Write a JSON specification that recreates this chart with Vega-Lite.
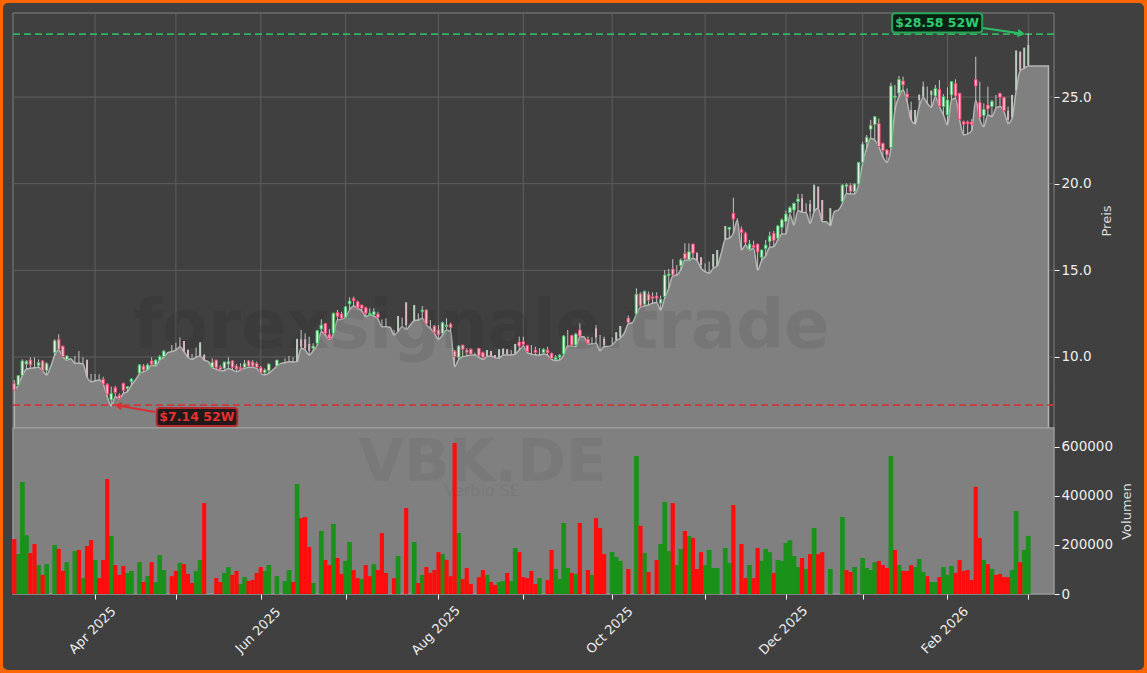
{
"$schema":"https://vega.github.io/schema/vega-lite/v6.json",
"width":1147,"height":673,"padding":0,"autosize":{"type":"none"},
"background":"#404040",
"config":{"view":{"fill":"#404040","stroke":"#ff6600","strokeWidth":6,"cornerRadius":8},"font":"DejaVu Sans"},
"datasets":{
"panel":[{"i":-0.32,"i2":257.37,"pl":5.9,"ph":29.85,"vl":0,"vh":677500}],
"xgrid":[{"i":20,"pl":5.9,"ph":29.85},{"i":40,"pl":5.9,"ph":29.85},{"i":61,"pl":5.9,"ph":29.85},{"i":82,"pl":5.9,"ph":29.85},{"i":105,"pl":5.9,"ph":29.85},{"i":126,"pl":5.9,"ph":29.85},{"i":148,"pl":5.9,"ph":29.85},{"i":171,"pl":5.9,"ph":29.85},{"i":191,"pl":5.9,"ph":29.85},{"i":210,"pl":5.9,"ph":29.85},{"i":231,"pl":5.9,"ph":29.85},{"i":251,"pl":5.9,"ph":29.85}],
"ygrid":[{"i":-0.32,"i2":257.37,"p":10},{"i":-0.32,"i2":257.37,"p":15},{"i":-0.32,"i2":257.37,"p":20},{"i":-0.32,"i2":257.37,"p":25}],
"levels":[{"i":-0.32,"i2":257.37,"p":28.63,"kind":"high"},{"i":-0.32,"i2":257.37,"p":7.22,"kind":"low"}],
"labels":[
{"i":217.3,"i2":239.6,"p":28.73,"p2":29.83,"tx":228.45,"ty":29.27,"text":"$28.58 52W","kind":"high"},
{"i":35.25,"i2":55.2,"p":6.02,"p2":7.05,"tx":45.2,"ty":6.52,"text":"$7.14 52W","kind":"low"}],
"arrows":[
{"i":239.8,"i2":249.3,"p":28.98,"p2":28.66,"kind":"high"},
{"i":34.8,"i2":25.7,"p":6.82,"p2":7.2,"kind":"low"}],
"bars":[
{"i":0,"o":8.48,"h":8.67,"l":8.09,"c":8.09,"k":"d","v":224000,"s":"r"},
{"i":1,"o":8.38,"h":8.96,"l":8.38,"c":8.92,"k":"u","v":163000,"s":"g"},
{"i":2,"o":8.92,"h":9.86,"l":8.92,"c":9.77,"k":"u","v":457000,"s":"g"},
{"i":3,"o":9.59,"h":9.82,"l":9.29,"c":9.75,"k":"u","v":240000,"s":"g"},
{"i":4,"o":9.82,"h":9.98,"l":9.34,"c":9.54,"k":"d","v":167000,"s":"r"},
{"i":5,"h":9.98,"l":9.38,"k":"w","v":204000,"s":"r"},
{"i":6,"o":9.5,"h":9.86,"l":9.4,"c":9.67,"k":"u","v":118000,"s":"g"},
{"i":7,"o":9.77,"h":9.82,"l":9.21,"c":9.21,"k":"d","v":78000,"s":"r"},
{"i":8,"o":9.21,"h":9.69,"l":8.96,"c":9.63,"k":"u","v":122000,"s":"g"},
{"i":9,"l":9.44,"k":"n","v":0},
{"i":10,"o":10.25,"h":11.02,"l":10.11,"c":10.94,"k":"u","v":200000,"s":"g"},
{"i":11,"o":11.02,"h":11.31,"l":10.4,"c":10.44,"k":"d","v":184000,"s":"r"},
{"i":12,"o":10.63,"h":10.63,"l":10.02,"c":10.02,"k":"d","v":94000,"s":"r"},
{"i":13,"o":9.86,"h":10.09,"l":9.82,"c":10.06,"k":"u","v":130000,"s":"g"},
{"i":14,"l":9.9,"k":"n","v":0},
{"i":15,"h":10.06,"l":9.63,"k":"w","v":175000,"s":"g"},
{"i":16,"h":10.34,"l":9.63,"k":"w","v":180000,"s":"r"},
{"i":17,"h":9.98,"l":9.59,"k":"w","v":65000,"s":"g"},
{"i":18,"o":9.82,"h":9.86,"l":8.86,"c":8.86,"k":"pd","v":196000,"s":"r"},
{"i":19,"h":9.02,"l":8.57,"k":"w","v":220000,"s":"r"},
{"i":20,"h":9.02,"l":8.61,"k":"w","v":139000,"s":"g"},
{"i":21,"h":9.0,"l":8.67,"k":"w","v":65000,"s":"r"},
{"i":22,"o":8.71,"h":8.86,"l":8.44,"c":8.44,"k":"d","v":139000,"s":"r"},
{"i":23,"o":8.42,"h":8.48,"l":7.71,"c":7.86,"k":"d","v":469000,"s":"r"},
{"i":24,"o":7.52,"h":8.29,"l":7.17,"c":7.9,"k":"u","v":237000,"s":"g"},
{"i":25,"o":8.23,"h":8.33,"l":7.71,"c":7.94,"k":"d","v":118000,"s":"r"},
{"i":26,"o":7.79,"h":7.9,"l":7.59,"c":7.59,"k":"d","v":78000,"s":"r"},
{"i":27,"o":8.48,"h":8.52,"l":7.9,"c":8.06,"k":"d","v":114000,"s":"r"},
{"i":28,"o":8.17,"h":8.29,"l":8.0,"c":8.29,"k":"u","v":86000,"s":"g"},
{"i":29,"o":8.57,"h":8.77,"l":8.38,"c":8.73,"k":"u","v":94000,"s":"g"},
{"i":30,"l":8.67,"k":"n","v":0},
{"i":31,"o":9.06,"h":9.59,"l":9.02,"c":9.54,"k":"u","v":130000,"s":"g"},
{"i":32,"o":9.48,"h":9.59,"l":9.15,"c":9.25,"k":"d","v":49000,"s":"r"},
{"i":33,"o":9.25,"h":9.63,"l":9.25,"c":9.54,"k":"u","v":73000,"s":"g"},
{"i":34,"o":9.77,"h":9.98,"l":9.54,"c":9.59,"k":"d","v":130000,"s":"r"},
{"i":35,"o":9.54,"h":9.86,"l":9.48,"c":9.82,"k":"u","v":49000,"s":"g"},
{"i":36,"o":9.82,"h":10.11,"l":9.82,"c":10.02,"k":"u","v":159000,"s":"g"},
{"i":37,"o":10.02,"h":10.4,"l":9.98,"c":10.34,"k":"u","v":98000,"s":"g"},
{"i":38,"l":10.25,"k":"n","v":0},
{"i":39,"h":10.69,"l":10.31,"k":"w","v":73000,"s":"r"},
{"i":40,"h":10.82,"l":10.4,"k":"w","v":94000,"s":"r"},
{"i":41,"h":11.13,"l":10.59,"k":"w","v":127000,"s":"g"},
{"i":42,"o":10.92,"h":10.92,"l":10.31,"c":10.31,"k":"pd","v":122000,"s":"r"},
{"i":43,"o":10.4,"h":10.44,"l":9.98,"c":9.98,"k":"pd","v":82000,"s":"r"},
{"i":44,"h":10.17,"l":9.86,"k":"w","v":45000,"s":"r"},
{"i":45,"h":10.54,"l":9.98,"k":"w","v":94000,"s":"g"},
{"i":46,"o":10.06,"h":10.84,"l":10.06,"c":10.84,"k":"pu","v":139000,"s":"g"},
{"i":47,"o":10.11,"h":10.17,"l":9.82,"c":9.82,"k":"pd","v":371000,"s":"r"},
{"i":48,"l":9.73,"k":"n","v":0},
{"i":49,"o":9.4,"h":9.92,"l":9.4,"c":9.69,"k":"u","v":0},
{"i":50,"o":9.82,"h":9.82,"l":9.29,"c":9.38,"k":"d","v":65000,"s":"r"},
{"i":51,"o":9.4,"h":9.52,"l":9.21,"c":9.25,"k":"d","v":49000,"s":"r"},
{"i":52,"o":9.34,"h":9.73,"l":9.21,"c":9.71,"k":"u","v":86000,"s":"g"},
{"i":53,"o":9.59,"h":9.98,"l":9.34,"c":9.73,"k":"u","v":110000,"s":"g"},
{"i":54,"o":9.77,"h":9.82,"l":9.25,"c":9.4,"k":"d","v":78000,"s":"r"},
{"i":55,"o":9.48,"h":9.59,"l":9.15,"c":9.29,"k":"d","v":94000,"s":"r"},
{"i":56,"o":9.4,"h":9.63,"l":9.25,"c":9.29,"k":"d","v":41000,"s":"g"},
{"i":57,"o":9.4,"h":9.82,"l":9.34,"c":9.63,"k":"u","v":69000,"s":"g"},
{"i":58,"o":9.77,"h":9.82,"l":9.4,"c":9.48,"k":"d","v":53000,"s":"r"},
{"i":59,"o":9.71,"h":9.82,"l":9.4,"c":9.48,"k":"d","v":57000,"s":"r"},
{"i":60,"o":9.63,"h":9.73,"l":9.34,"c":9.4,"k":"d","v":86000,"s":"r"},
{"i":61,"o":9.4,"h":9.48,"l":9.06,"c":9.09,"k":"d","v":110000,"s":"r"},
{"i":62,"o":9.09,"h":9.34,"l":8.96,"c":9.25,"k":"u","v":94000,"s":"g"},
{"i":63,"o":9.21,"h":9.63,"l":9.06,"c":9.59,"k":"u","v":118000,"s":"g"},
{"i":64,"l":9.25,"k":"n","v":0},
{"i":65,"o":9.48,"h":9.82,"l":9.48,"c":9.82,"k":"u","v":73000,"s":"g"},
{"i":66,"l":9.63,"k":"n","v":0},
{"i":67,"h":9.92,"l":9.67,"k":"w","v":53000,"s":"g"},
{"i":68,"h":10.06,"l":9.73,"k":"w","v":98000,"s":"g"},
{"i":69,"h":9.98,"l":9.71,"k":"w","v":49000,"s":"r"},
{"i":70,"o":9.73,"h":11.07,"l":9.73,"c":11.02,"k":"pu","v":449000,"s":"g"},
{"i":71,"o":11.02,"h":11.56,"l":10.5,"c":10.59,"k":"pd","v":310000,"s":"r"},
{"i":72,"o":11.02,"h":11.36,"l":10.4,"c":10.5,"k":"pd","v":314000,"s":"r"},
{"i":73,"o":10.75,"h":11.17,"l":10.11,"c":10.36,"k":"pd","v":192000,"s":"r"},
{"i":74,"o":10.5,"h":10.79,"l":10.36,"c":10.63,"k":"u","v":45000,"s":"g"},
{"i":75,"o":10.79,"h":11.56,"l":10.69,"c":11.52,"k":"u","v":0},
{"i":76,"o":11.61,"h":12.17,"l":11.46,"c":11.84,"k":"u","v":257000,"s":"g"},
{"i":77,"o":11.94,"h":11.94,"l":11.27,"c":11.36,"k":"d","v":139000,"s":"r"},
{"i":78,"o":11.31,"h":11.61,"l":11.02,"c":11.07,"k":"d","v":118000,"s":"r"},
{"i":79,"o":11.36,"h":12.56,"l":11.32,"c":12.52,"k":"u","v":286000,"s":"g"},
{"i":80,"o":12.57,"h":12.71,"l":12.13,"c":12.34,"k":"d","v":147000,"s":"r"},
{"i":81,"o":12.48,"h":12.61,"l":12.17,"c":12.23,"k":"d","v":82000,"s":"r"},
{"i":82,"o":12.29,"h":12.94,"l":12.29,"c":12.9,"k":"u","v":135000,"s":"g"},
{"i":83,"o":13.06,"h":13.44,"l":12.71,"c":13.23,"k":"u","v":212000,"s":"g"},
{"i":84,"o":13.38,"h":13.48,"l":12.94,"c":13.25,"k":"d","v":98000,"s":"r"},
{"i":85,"o":13.19,"h":13.25,"l":12.81,"c":12.84,"k":"d","v":65000,"s":"r"},
{"i":86,"o":13.0,"h":13.0,"l":12.67,"c":12.81,"k":"d","v":61000,"s":"g"},
{"i":87,"o":12.84,"h":12.9,"l":12.33,"c":12.52,"k":"d","v":118000,"s":"r"},
{"i":88,"o":12.42,"h":12.81,"l":12.42,"c":12.52,"k":"u","v":73000,"s":"r"},
{"i":89,"o":12.44,"h":12.81,"l":12.36,"c":12.61,"k":"u","v":122000,"s":"g"},
{"i":90,"o":12.48,"h":12.61,"l":12.19,"c":12.27,"k":"d","v":98000,"s":"r"},
{"i":91,"h":12.17,"l":11.75,"k":"w","v":249000,"s":"r"},
{"i":92,"h":12.23,"l":11.75,"k":"w","v":86000,"s":"r"},
{"i":93,"l":11.71,"k":"n","v":0},
{"i":94,"h":11.56,"l":11.27,"k":"w","v":65000,"s":"r"},
{"i":95,"o":11.46,"h":12.36,"l":11.46,"c":12.36,"k":"pu","v":155000,"s":"g"},
{"i":96,"h":12.27,"l":11.75,"k":"w","v":0},
{"i":97,"o":13.15,"h":13.15,"l":11.59,"c":11.84,"k":"pd","v":351000,"s":"r"},
{"i":98,"l":11.84,"k":"n","v":0},
{"i":99,"o":12.09,"h":13.0,"l":12.09,"c":13.0,"k":"pu","v":212000,"s":"g"},
{"i":100,"h":12.52,"l":12.13,"k":"w","v":45000,"s":"r"},
{"i":101,"o":12.61,"h":12.94,"l":12.23,"c":12.71,"k":"u","v":78000,"s":"g"},
{"i":102,"o":12.71,"h":12.75,"l":11.84,"c":11.9,"k":"d","v":110000,"s":"r"},
{"i":103,"h":12.13,"l":11.65,"k":"w","v":86000,"s":"r"},
{"i":104,"o":11.79,"h":11.84,"l":11.36,"c":11.4,"k":"d","v":98000,"s":"r"},
{"i":105,"o":11.56,"h":11.84,"l":11.02,"c":11.27,"k":"d","v":171000,"s":"r"},
{"i":106,"o":11.36,"h":12.04,"l":11.27,"c":11.98,"k":"u","v":163000,"s":"g"},
{"i":107,"o":11.75,"h":12.23,"l":11.56,"c":11.84,"k":"u","v":139000,"s":"r"},
{"i":108,"o":11.9,"h":11.98,"l":11.46,"c":11.69,"k":"d","v":73000,"s":"r"},
{"i":109,"o":10.34,"h":10.4,"l":9.44,"c":10.02,"k":"d","v":616000,"s":"r"},
{"i":110,"o":9.98,"h":10.69,"l":9.86,"c":10.63,"k":"u","v":249000,"s":"g"},
{"i":111,"o":10.69,"h":10.69,"l":10.02,"c":10.44,"k":"d","v":61000,"s":"r"},
{"i":112,"o":10.4,"h":10.5,"l":10.06,"c":10.25,"k":"d","v":106000,"s":"r"},
{"i":113,"o":10.44,"h":10.5,"l":10.11,"c":10.17,"k":"d","v":41000,"s":"r"},
{"i":114,"h":10.25,"l":10.11,"k":"w","v":0},
{"i":115,"o":10.5,"h":10.5,"l":9.98,"c":10.06,"k":"d","v":69000,"s":"r"},
{"i":116,"o":10.25,"h":10.31,"l":9.86,"c":9.98,"k":"d","v":98000,"s":"r"},
{"i":117,"o":10.06,"h":10.4,"l":10.02,"c":10.4,"k":"pu","v":78000,"s":"g"},
{"i":118,"o":10.34,"h":10.34,"l":10.06,"c":10.06,"k":"pd","v":49000,"s":"r"},
{"i":119,"o":10.11,"h":10.11,"l":9.96,"c":9.98,"k":"pd","v":37000,"s":"r"},
{"i":120,"o":9.96,"h":10.44,"l":9.92,"c":10.44,"k":"pu","v":49000,"s":"g"},
{"i":121,"o":10.17,"h":10.48,"l":10.11,"c":10.48,"k":"pu","v":53000,"s":"g"},
{"i":122,"o":10.44,"h":10.44,"l":10.11,"c":10.17,"k":"pd","v":86000,"s":"r"},
{"i":123,"h":10.4,"l":10.11,"k":"w","v":53000,"s":"g"},
{"i":124,"o":10.21,"h":10.75,"l":10.17,"c":10.75,"k":"pu","v":188000,"s":"g"},
{"i":125,"o":10.86,"h":11.17,"l":10.4,"c":10.63,"k":"d","v":171000,"s":"r"},
{"i":126,"o":10.88,"h":11.17,"l":10.63,"c":10.73,"k":"d","v":69000,"s":"r"},
{"i":127,"o":10.67,"h":10.69,"l":10.25,"c":10.31,"k":"d","v":65000,"s":"r"},
{"i":128,"h":10.69,"l":10.17,"k":"w","v":94000,"s":"r"},
{"i":129,"o":10.4,"h":10.59,"l":10.11,"c":10.25,"k":"d","v":41000,"s":"r"},
{"i":130,"h":10.5,"l":10.11,"k":"w","v":65000,"s":"g"},
{"i":131,"o":10.25,"h":10.5,"l":10.17,"c":10.44,"k":"u","v":0},
{"i":132,"o":10.4,"h":10.59,"l":10.11,"c":10.25,"k":"d","v":57000,"s":"r"},
{"i":133,"o":10.21,"h":10.25,"l":9.86,"c":9.92,"k":"d","v":180000,"s":"r"},
{"i":134,"o":9.86,"h":10.11,"l":9.79,"c":9.98,"k":"u","v":102000,"s":"g"},
{"i":135,"o":9.98,"h":10.17,"l":9.82,"c":10.11,"k":"u","v":61000,"s":"g"},
{"i":136,"o":10.17,"h":11.27,"l":10.11,"c":11.21,"k":"u","v":290000,"s":"g"},
{"i":137,"h":11.56,"l":10.63,"k":"w","v":106000,"s":"g"},
{"i":138,"o":11.25,"h":11.27,"l":10.63,"c":10.69,"k":"d","v":86000,"s":"r"},
{"i":139,"o":10.69,"h":11.4,"l":10.59,"c":11.32,"k":"u","v":82000,"s":"g"},
{"i":140,"o":11.56,"h":11.94,"l":11.17,"c":11.21,"k":"d","v":290000,"s":"r"},
{"i":141,"l":11.17,"k":"n","v":0},
{"i":142,"o":11.02,"h":11.17,"l":10.75,"c":10.79,"k":"d","v":98000,"s":"r"},
{"i":143,"h":11.13,"l":10.75,"k":"w","v":78000,"s":"g"},
{"i":144,"o":11.65,"h":11.84,"l":10.79,"c":11.13,"k":"pd","v":310000,"s":"r"},
{"i":145,"h":11.27,"l":10.36,"k":"w","v":269000,"s":"r"},
{"i":146,"o":11.04,"h":11.17,"l":10.6,"c":10.69,"k":"pd","v":163000,"s":"r"},
{"i":147,"l":10.6,"k":"n","v":0},
{"i":148,"h":11.14,"l":10.69,"k":"w","v":171000,"s":"g"},
{"i":149,"o":10.98,"h":11.42,"l":10.94,"c":11.42,"k":"pu","v":151000,"s":"g"},
{"i":150,"o":11.17,"h":11.79,"l":11.08,"c":11.79,"k":"pu","v":135000,"s":"g"},
{"i":151,"l":11.37,"k":"n","v":0},
{"i":152,"o":12.25,"h":12.39,"l":11.91,"c":11.98,"k":"d","v":102000,"s":"r"},
{"i":153,"l":11.98,"k":"n","v":0},
{"i":154,"o":12.48,"h":13.96,"l":12.48,"c":13.62,"k":"u","v":563000,"s":"g"},
{"i":155,"o":13.64,"h":13.73,"l":12.87,"c":12.94,"k":"d","v":278000,"s":"r"},
{"i":156,"o":13.04,"h":13.83,"l":12.94,"c":13.79,"k":"u","v":167000,"s":"g"},
{"i":157,"o":13.62,"h":13.77,"l":13.0,"c":13.27,"k":"d","v":90000,"s":"r"},
{"i":158,"o":13.48,"h":13.73,"l":13.1,"c":13.39,"k":"d","v":0},
{"i":159,"o":13.52,"h":13.73,"l":13.14,"c":13.39,"k":"d","v":139000,"s":"r"},
{"i":160,"o":13.1,"h":13.54,"l":12.71,"c":13.33,"k":"u","v":204000,"s":"g"},
{"i":161,"o":13.48,"h":15.02,"l":13.39,"c":14.73,"k":"u","v":376000,"s":"g"},
{"i":162,"o":14.69,"h":15.08,"l":13.96,"c":14.79,"k":"u","v":175000,"s":"g"},
{"i":163,"o":15.08,"h":15.64,"l":14.67,"c":14.73,"k":"d","v":371000,"s":"r"},
{"i":164,"h":15.31,"l":14.73,"k":"w","v":118000,"s":"g"},
{"i":165,"o":15.27,"h":15.69,"l":15.02,"c":15.6,"k":"u","v":184000,"s":"g"},
{"i":166,"o":15.98,"h":16.56,"l":15.6,"c":15.66,"k":"d","v":257000,"s":"r"},
{"i":167,"o":15.6,"h":16.56,"l":15.56,"c":16.08,"k":"u","v":237000,"s":"g"},
{"i":168,"o":16.52,"h":16.52,"l":15.69,"c":15.98,"k":"d","v":229000,"s":"r"},
{"i":169,"o":16.02,"h":16.02,"l":15.56,"c":15.6,"k":"pd","v":102000,"s":"r"},
{"i":170,"o":15.75,"h":15.75,"l":15.12,"c":15.31,"k":"pd","v":171000,"s":"r"},
{"i":171,"h":15.4,"l":14.92,"k":"w","v":118000,"s":"g"},
{"i":172,"h":15.5,"l":14.83,"k":"w","v":180000,"s":"g"},
{"i":173,"o":15.21,"h":15.94,"l":15.12,"c":15.94,"k":"pu","v":106000,"s":"g"},
{"i":174,"o":15.25,"h":16.17,"l":15.25,"c":16.17,"k":"pu","v":106000,"s":"g"},
{"i":175,"l":15.98,"k":"n","v":0},
{"i":176,"o":16.79,"h":17.56,"l":16.79,"c":17.56,"k":"pu","v":188000,"s":"g"},
{"i":177,"o":17.37,"h":17.48,"l":16.85,"c":17.48,"k":"u","v":127000,"s":"g"},
{"i":178,"o":18.29,"h":19.19,"l":17.14,"c":17.96,"k":"d","v":363000,"s":"r"},
{"i":179,"h":18.0,"l":17.91,"k":"w","v":0},
{"i":180,"o":17.37,"h":17.52,"l":16.17,"c":17.17,"k":"d","v":204000,"s":"r"},
{"i":181,"o":17.14,"h":17.23,"l":16.46,"c":16.6,"k":"d","v":65000,"s":"r"},
{"i":182,"o":16.21,"h":16.75,"l":16.17,"c":16.52,"k":"u","v":118000,"s":"g"},
{"i":183,"o":16.44,"h":16.71,"l":16.27,"c":16.31,"k":"d","v":65000,"s":"r"},
{"i":184,"o":16.52,"h":16.52,"l":15.02,"c":16.06,"k":"d","v":188000,"s":"r"},
{"i":185,"o":15.75,"h":16.21,"l":15.56,"c":16.17,"k":"u","v":135000,"s":"g"},
{"i":186,"o":16.25,"h":16.75,"l":15.83,"c":16.46,"k":"u","v":184000,"s":"g"},
{"i":187,"o":16.66,"h":17.23,"l":16.33,"c":16.98,"k":"u","v":171000,"s":"g"},
{"i":188,"o":17.14,"h":17.27,"l":16.37,"c":16.71,"k":"d","v":86000,"s":"r"},
{"i":189,"o":16.85,"h":17.62,"l":16.75,"c":17.56,"k":"u","v":139000,"s":"g"},
{"i":190,"o":17.48,"h":18.0,"l":17.1,"c":17.91,"k":"u","v":135000,"s":"g"},
{"i":191,"o":17.81,"h":18.44,"l":17.1,"c":18.25,"k":"u","v":208000,"s":"g"},
{"i":192,"o":18.33,"h":18.71,"l":18.19,"c":18.62,"k":"u","v":220000,"s":"g"},
{"i":193,"o":18.48,"h":18.9,"l":17.62,"c":18.87,"k":"u","v":155000,"s":"g"},
{"i":194,"o":18.96,"h":19.41,"l":18.44,"c":19.12,"k":"u","v":110000,"s":"g"},
{"i":195,"o":19.16,"h":19.41,"l":18.35,"c":18.39,"k":"pd","v":147000,"s":"r"},
{"i":196,"h":18.87,"l":18.33,"k":"w","v":102000,"s":"g"},
{"i":197,"o":18.83,"h":19.06,"l":17.71,"c":18.39,"k":"pd","v":163000,"s":"r"},
{"i":198,"o":18.39,"h":19.96,"l":18.39,"c":19.92,"k":"pu","v":269000,"s":"g"},
{"i":199,"o":19.83,"h":19.83,"l":18.58,"c":18.58,"k":"pd","v":163000,"s":"r"},
{"i":200,"o":19.06,"h":19.06,"l":17.81,"c":17.91,"k":"pd","v":171000,"s":"r"},
{"i":201,"l":17.81,"k":"n","v":0},
{"i":202,"o":17.62,"h":18.58,"l":17.58,"c":18.58,"k":"pu","v":102000,"s":"g"},
{"i":203,"l":18.39,"k":"n","v":0},
{"i":204,"l":18.48,"k":"n","v":0},
{"i":205,"o":18.96,"h":19.98,"l":18.87,"c":19.92,"k":"u","v":314000,"s":"g"},
{"i":206,"o":19.83,"h":20.02,"l":19.44,"c":19.94,"k":"u","v":98000,"s":"r"},
{"i":207,"o":19.92,"h":20.02,"l":19.41,"c":19.54,"k":"d","v":90000,"s":"r"},
{"i":208,"o":19.54,"h":20.02,"l":19.41,"c":19.98,"k":"u","v":110000,"s":"g"},
{"i":209,"o":19.97,"h":21.23,"l":19.93,"c":21.23,"k":"u","v":0},
{"i":210,"o":21.23,"h":22.43,"l":21.18,"c":22.29,"k":"u","v":147000,"s":"g"},
{"i":211,"o":22.37,"h":22.81,"l":22.04,"c":22.68,"k":"u","v":106000,"s":"g"},
{"i":212,"o":23.14,"h":23.68,"l":22.62,"c":23.37,"k":"u","v":98000,"s":"g"},
{"i":213,"o":23.41,"h":23.87,"l":22.52,"c":23.87,"k":"u","v":130000,"s":"g"},
{"i":214,"o":23.48,"h":23.77,"l":22.14,"c":22.14,"k":"d","v":135000,"s":"r"},
{"i":215,"o":22.33,"h":22.37,"l":21.56,"c":21.91,"k":"d","v":118000,"s":"r"},
{"i":216,"o":21.95,"h":21.98,"l":21.22,"c":21.66,"k":"d","v":106000,"s":"r"},
{"i":217,"o":22.08,"h":25.83,"l":22.04,"c":25.64,"k":"u","v":563000,"s":"g"},
{"i":218,"o":24.98,"h":25.7,"l":24.25,"c":25.06,"k":"u","v":180000,"s":"r"},
{"i":219,"o":25.22,"h":26.22,"l":25.02,"c":26.02,"k":"u","v":118000,"s":"g"},
{"i":220,"o":25.93,"h":26.18,"l":25.41,"c":25.7,"k":"d","v":94000,"s":"r"},
{"i":221,"o":25.18,"h":25.5,"l":24.73,"c":24.98,"k":"d","v":94000,"s":"r"},
{"i":222,"o":24.25,"h":24.73,"l":23.68,"c":23.68,"k":"pd","v":118000,"s":"r"},
{"i":223,"o":23.48,"h":24.25,"l":23.45,"c":24.25,"k":"pu","v":110000,"s":"g"},
{"i":224,"o":24.83,"h":25.16,"l":24.45,"c":25.12,"k":"pu","v":143000,"s":"g"},
{"i":225,"o":25.02,"h":25.89,"l":24.98,"c":25.6,"k":"pu","v":90000,"s":"g"},
{"i":226,"h":25.6,"l":24.64,"k":"w","v":73000,"s":"r"},
{"i":227,"o":25.12,"h":25.37,"l":24.41,"c":25.37,"k":"pu","v":49000,"s":"g"},
{"i":228,"o":25.06,"h":25.7,"l":25.02,"c":25.5,"k":"u","v":49000,"s":"g"},
{"i":229,"o":25.45,"h":25.98,"l":24.45,"c":24.48,"k":"d","v":69000,"s":"r"},
{"i":230,"o":24.45,"h":25.16,"l":23.97,"c":25.02,"k":"u","v":110000,"s":"g"},
{"i":231,"o":23.97,"h":25.56,"l":23.39,"c":24.83,"k":"u","v":78000,"s":"g"},
{"i":232,"o":25.12,"h":25.93,"l":24.83,"c":25.89,"k":"u","v":114000,"s":"g"},
{"i":233,"o":25.79,"h":26.02,"l":24.93,"c":25.06,"k":"d","v":86000,"s":"r"},
{"i":234,"o":25.22,"h":25.22,"l":23.68,"c":23.72,"k":"d","v":139000,"s":"r"},
{"i":235,"o":23.58,"h":23.64,"l":22.81,"c":23.43,"k":"d","v":94000,"s":"r"},
{"i":236,"o":23.56,"h":23.64,"l":22.87,"c":23.45,"k":"d","v":98000,"s":"r"},
{"i":237,"o":23.56,"h":23.72,"l":23.06,"c":23.43,"k":"d","v":57000,"s":"r"},
{"i":238,"o":26.02,"h":27.33,"l":24.83,"c":25.64,"k":"d","v":437000,"s":"r"},
{"i":239,"o":24.7,"h":25.89,"l":23.72,"c":23.83,"k":"d","v":229000,"s":"r"},
{"i":240,"o":23.93,"h":24.64,"l":23.29,"c":24.29,"k":"u","v":139000,"s":"g"},
{"i":241,"o":24.54,"h":25.6,"l":23.97,"c":24.31,"k":"d","v":122000,"s":"r"},
{"i":242,"o":24.45,"h":24.83,"l":23.87,"c":24.75,"k":"u","v":102000,"s":"g"},
{"i":243,"h":25.12,"l":24.35,"k":"w","v":78000,"s":"r"},
{"i":244,"o":25.22,"h":25.22,"l":24.45,"c":24.98,"k":"d","v":82000,"s":"r"},
{"i":245,"o":24.98,"h":25.02,"l":24.16,"c":24.21,"k":"d","v":69000,"s":"r"},
{"i":246,"o":24.21,"h":24.45,"l":23.48,"c":23.68,"k":"pd","v":69000,"s":"r"},
{"i":247,"o":23.83,"h":25.12,"l":23.77,"c":25.12,"k":"pu","v":98000,"s":"g"},
{"i":248,"o":25.41,"h":27.68,"l":25.37,"c":27.68,"k":"pu","v":339000,"s":"g"},
{"i":249,"o":27.62,"h":27.62,"l":26.52,"c":26.56,"k":"pd","v":130000,"s":"r"},
{"i":250,"o":26.66,"h":27.85,"l":26.66,"c":27.85,"k":"pu","v":180000,"s":"g"},
{"i":251,"o":26.85,"h":28.68,"l":26.79,"c":28.0,"k":"pu","v":237000,"s":"g"},
{"i":252,"l":26.79,"k":"n","v":0},
{"i":253,"l":26.79,"k":"n","v":0},
{"i":254,"l":26.79,"k":"n","v":0},
{"i":255,"l":26.79,"k":"n","v":0},
{"i":256,"l":26.79,"k":"n","v":0}
]
},
"encoding":{
"x":{"field":"i","type":"quantitative","scale":{"domain":[-0.32,257.37],"range":[13,1054],"nice":false,"zero":false,"padding":0},
"axis":{"title":null,"orient":"bottom","offset":-79,"grid":false,"domain":false,"values":[20,40,61,82,105,126,148,171,191,210,231,251],
"labelExpr":"datum.value==20?'Apr 2025':datum.value==61?'Jun 2025':datum.value==105?'Aug 2025':datum.value==148?'Oct 2025':datum.value==191?'Dec 2025':datum.value==231?'Feb 2026':''",
"labelAngle":-45,"labelAlign":"center","labelBaseline":"middle","labelPadding":31,"labelOffset":-3,"labelFontSize":13,"labelColor":"#eeeeee","labelFont":"DejaVu Sans","labelOverlap":false,"labelFlush":false,"labelBound":false,"tickColor":"#ffffff","tickSize":5,"tickWidth":1}}
},
"layer":[
{"layer":[
{"data":{"name":"panel"},"mark":{"type":"rect","fill":"#404040","stroke":"#808080","strokeWidth":1},
 "encoding":{"x2":{"field":"i2"},"y":{"field":"pl","type":"quantitative","scale":{"domain":[5.9,29.85],"range":[428,13],"nice":false,"zero":false},
 "axis":{"title":"Preis","orient":"right","offset":-93,"grid":false,"domain":false,"values":[10,15,20,25],"format":".1f","labelFontSize":13.5,"labelColor":"#eeeeee","labelFont":"DejaVu Sans","tickColor":"#ffffff","tickSize":5,"titleColor":"#dddddd","titleFont":"DejaVu Sans","titleFontSize":13,"titleFontWeight":"normal","titleAngle":270,"titleBaseline":"bottom","titlePadding":22}},
 "y2":{"field":"ph"}}},
{"data":{"name":"xgrid"},"mark":{"type":"rule","color":"#5e5e5e","strokeWidth":1},
 "encoding":{"y":{"field":"pl","type":"quantitative"},"y2":{"field":"ph"}}},
{"data":{"name":"ygrid"},"mark":{"type":"rule","color":"#5e5e5e","strokeWidth":1},
 "encoding":{"x2":{"field":"i2"},"y":{"field":"p","type":"quantitative"}}},
{"data":{"name":"bars"},"mark":{"type":"area","fill":"#808080","stroke":"#b4b4b4","strokeWidth":1.5,"interpolate":"monotone"},
 "encoding":{"y":{"field":"l","type":"quantitative"},"y2":{"datum":5.9}}},
{"data":{"values":[{"i":115.6,"p":11.67,"text":"forexsignale.trade"}]},"mark":{"type":"text","font":"DejaVu Sans","fontWeight":"bold","fontSize":66.8,"color":"#000000","opacity":0.07,"align":"center","baseline":"middle"},
 "encoding":{"y":{"field":"p","type":"quantitative"},"text":{"field":"text"}}},
{"data":{"name":"levels"},"transform":[{"filter":"datum.kind=='high'"}],"mark":{"type":"rule","color":"#2fb562","strokeWidth":1.6,"strokeDash":[7,4]},
 "encoding":{"x2":{"field":"i2"},"y":{"field":"p","type":"quantitative"}}},
{"data":{"name":"levels"},"transform":[{"filter":"datum.kind=='low'"}],"mark":{"type":"rule","color":"#d0393c","strokeWidth":1.6,"strokeDash":[7,4]},
 "encoding":{"x2":{"field":"i2"},"y":{"field":"p","type":"quantitative"}}},
{"data":{"name":"bars"},"transform":[{"filter":"datum.k!='n'"}],"mark":{"type":"rule","color":"#c4c4c4","strokeWidth":1},
 "encoding":{"y":{"field":"h","type":"quantitative"},"y2":{"field":"l"}}},
{"data":{"name":"bars"},"transform":[{"filter":"datum.k=='pu'"}],"mark":{"type":"bar","orient":"vertical","width":2,"fill":"#b9cbbc"},
 "encoding":{"y":{"field":"o","type":"quantitative"},"y2":{"field":"c"}}},
{"data":{"name":"bars"},"transform":[{"filter":"datum.k=='pd'"}],"mark":{"type":"bar","orient":"vertical","width":2,"fill":"#d9b4bf"},
 "encoding":{"y":{"field":"o","type":"quantitative"},"y2":{"field":"c"}}},
{"data":{"name":"bars"},"transform":[{"filter":"datum.k=='u'"}],"mark":{"type":"bar","orient":"vertical","width":2.6,"fill":"#e6f4e8","stroke":"#45b862","strokeWidth":1},
 "encoding":{"y":{"field":"o","type":"quantitative"},"y2":{"field":"c"}}},
{"data":{"name":"bars"},"transform":[{"filter":"datum.k=='d'"}],"mark":{"type":"bar","orient":"vertical","width":2.6,"fill":"#ffc0d0","stroke":"#e8466e","strokeWidth":1},
 "encoding":{"y":{"field":"o","type":"quantitative"},"y2":{"field":"c"}}},
{"data":{"name":"arrows"},"transform":[{"filter":"datum.kind=='high'"}],"mark":{"type":"rule","color":"#2ebd64","strokeWidth":2},
 "encoding":{"x2":{"field":"i2"},"y":{"field":"p","type":"quantitative"},"y2":{"field":"p2"}}},
{"data":{"name":"arrows"},"transform":[{"filter":"datum.kind=='low'"}],"mark":{"type":"rule","color":"#d92f33","strokeWidth":2},
 "encoding":{"x2":{"field":"i2"},"y":{"field":"p","type":"quantitative"},"y2":{"field":"p2"}}},
{"data":{"name":"arrows"},"transform":[{"filter":"datum.kind=='high'"}],"mark":{"type":"point","shape":"triangle-right","filled":true,"color":"#2ebd64","size":70,"angle":8,"opacity":1},
 "encoding":{"x":{"field":"i2","type":"quantitative"},"y":{"field":"p2","type":"quantitative"}}},
{"data":{"name":"arrows"},"transform":[{"filter":"datum.kind=='low'"}],"mark":{"type":"point","shape":"triangle-left","filled":true,"color":"#d92f33","size":70,"angle":9,"opacity":1},
 "encoding":{"x":{"field":"i2","type":"quantitative"},"y":{"field":"p2","type":"quantitative"}}},
{"data":{"name":"labels"},"transform":[{"filter":"datum.kind=='high'"}],"mark":{"type":"rect","fill":"#062010","fillOpacity":0.95,"stroke":"#2aa35a","strokeWidth":2,"cornerRadius":3},
 "encoding":{"x2":{"field":"i2"},"y":{"field":"p","type":"quantitative"},"y2":{"field":"p2"}}},
{"data":{"name":"labels"},"transform":[{"filter":"datum.kind=='low'"}],"mark":{"type":"rect","fill":"#1c1414","fillOpacity":0.95,"stroke":"#b52a2e","strokeWidth":2,"cornerRadius":3},
 "encoding":{"x2":{"field":"i2"},"y":{"field":"p","type":"quantitative"},"y2":{"field":"p2"}}},
{"data":{"name":"labels"},"transform":[{"filter":"datum.kind=='high'"}],"mark":{"type":"text","font":"DejaVu Sans","fontWeight":"bold","fontSize":12.5,"color":"#2ecc71","align":"center","baseline":"middle"},
 "encoding":{"x":{"field":"tx","type":"quantitative"},"y":{"field":"ty","type":"quantitative"},"text":{"field":"text"}}},
{"data":{"name":"labels"},"transform":[{"filter":"datum.kind=='low'"}],"mark":{"type":"text","font":"DejaVu Sans","fontWeight":"bold","fontSize":12.5,"color":"#e23232","align":"center","baseline":"middle"},
 "encoding":{"x":{"field":"tx","type":"quantitative"},"y":{"field":"ty","type":"quantitative"},"text":{"field":"text"}}}
]},
{"layer":[
{"data":{"name":"panel"},"mark":{"type":"rect","fill":"#808080","stroke":"#989898","strokeWidth":1.5},
 "encoding":{"x2":{"field":"i2"},"y":{"field":"vl","type":"quantitative","scale":{"domain":[0,677500],"range":[594,428],"nice":false,"zero":false},
 "axis":{"title":"Volumen","orient":"right","offset":-93,"grid":false,"domain":false,"values":[0,200000,400000,600000],"format":"d","labelFontSize":13.5,"labelColor":"#eeeeee","labelFont":"DejaVu Sans","tickColor":"#ffffff","tickSize":5,"titleColor":"#dddddd","titleFont":"DejaVu Sans","titleFontSize":13,"titleFontWeight":"normal","titleAngle":270,"titleBaseline":"bottom","titlePadding":21}},
 "y2":{"field":"vh"}}},
{"data":{"values":[{"i":115.9,"v":535000,"text":"VBK.DE"}]},"mark":{"type":"text","font":"DejaVu Sans","fontWeight":"bold","fontSize":59,"color":"#000000","opacity":0.05,"align":"center","baseline":"middle"},
 "encoding":{"y":{"field":"v","type":"quantitative"},"text":{"field":"text"}}},
{"data":{"values":[{"i":115.8,"v":420000,"text":"Verbio SE"}]},"mark":{"type":"text","font":"DejaVu Sans","fontSize":16,"color":"#000000","opacity":0.05,"align":"center","baseline":"middle"},
 "encoding":{"y":{"field":"v","type":"quantitative"},"text":{"field":"text"}}},
{"data":{"name":"bars"},"transform":[{"filter":"datum.s=='g'"}],"mark":{"type":"bar","orient":"vertical","width":4.7,"fill":"#1a9119"},
 "encoding":{"y":{"field":"v","type":"quantitative"}}},
{"data":{"name":"bars"},"transform":[{"filter":"datum.s=='r'"}],"mark":{"type":"bar","orient":"vertical","width":4.2,"fill":"#ff0d0d"},
 "encoding":{"y":{"field":"v","type":"quantitative"}}}
]}
],
"resolve":{"scale":{"y":"independent"},"axis":{"y":"independent"}}
}
